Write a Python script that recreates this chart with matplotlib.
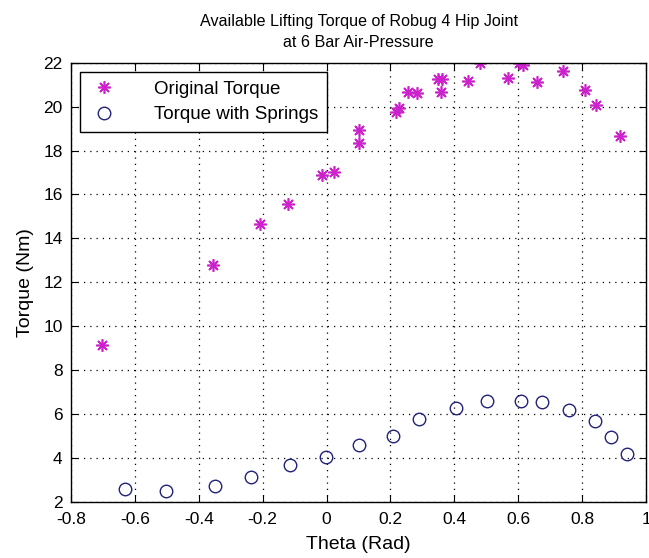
import matplotlib

matplotlib.use("Agg")
import matplotlib.pyplot as plt

plt.rcParams["font.family"] = ["Liberation Sans", "DejaVu Sans"]

# ─── Data ─────────────────────────────────────────────────────────────
theta_orig = [-0.703, -0.356, -0.208, -0.120, -0.015, 0.023, 0.102, 0.102,
              0.216, 0.227, 0.256, 0.282, 0.350, 0.360, 0.357, 0.444,
              0.480, 0.569, 0.603, 0.614, 0.659, 0.739, 0.809, 0.842, 0.918]
torque_orig = [9.14, 12.79, 14.64, 15.55, 16.89, 17.01, 18.94, 18.36,
               19.77, 19.95, 20.65, 20.61, 21.24, 21.24, 20.68, 21.15,
               22.0, 21.29, 22.0, 21.9, 21.11, 21.64, 20.75, 20.07, 18.66]

theta_spring = [-0.631, -0.503, -0.349, -0.237, -0.115, -0.003, 0.101, 0.207,
                0.289, 0.405, 0.501, 0.608, 0.673, 0.759, 0.840, 0.891, 0.939]
torque_spring = [2.59, 2.51, 2.72, 3.15, 3.67, 4.06, 4.59, 5.01,
                 5.79, 6.26, 6.60, 6.60, 6.54, 6.17, 5.68, 4.96, 4.17]

x_ticks = [-0.8, -0.6, -0.4, -0.2, 0, 0.2, 0.4, 0.6, 0.8, 1]
x_ticklabels = ["-0.8", "-0.6", "-0.4", "-0.2", "0", "0.2", "0.4", "0.6", "0.8", "1"]
y_ticks = list(range(2, 23, 2))

fig = plt.figure(figsize=(6.49, 5.58), dpi=100)
ax = fig.add_axes([0.1094, 0.1004, 0.886, 0.7872])

ax.plot(theta_orig, torque_orig, linestyle="none", marker=(8, 2, 0),
        markersize=9, markeredgewidth=1.2, color="#cc22cc",
        markeredgecolor="#cc22cc", label="Original Torque")
ax.plot(theta_spring, torque_spring, linestyle="none", marker="o",
        markersize=9, markerfacecolor="none", markeredgewidth=1.0,
        markeredgecolor="#22227a", label="Torque with Springs")

ax.set_xlim(-0.8, 1)
ax.set_ylim(2, 22)
ax.set_xticks(x_ticks)
ax.set_xticklabels(x_ticklabels)
ax.set_yticks(y_ticks)
ax.tick_params(direction="in", top=True, right=True, labelsize=12.5, length=5)
ax.tick_params(axis="x", pad=7)
ax.tick_params(axis="y", pad=6)
ax.grid(True, linestyle=(0, (1, 4)), color="black", linewidth=0.9)
for s in ax.spines.values():
    s.set_linewidth(1.0)

ax.set_xlabel("Theta (Rad)", fontsize=14, labelpad=7)
ax.set_ylabel("Torque (Nm)", fontsize=14, labelpad=7)
ax.set_title("Available Lifting Torque of Robug 4 Hip Joint\nat 6 Bar Air-Pressure",
             fontsize=11.6, pad=11, linespacing=1.5)

leg = ax.legend(loc="upper left", fontsize=13.5, fancybox=False, framealpha=1,
                edgecolor="black", borderaxespad=0.5, handletextpad=1.9,
                borderpad=0.45, labelspacing=0.45, handlelength=1.6)
leg.get_frame().set_linewidth(1.0)

fig.savefig("out.png", dpi=100)
